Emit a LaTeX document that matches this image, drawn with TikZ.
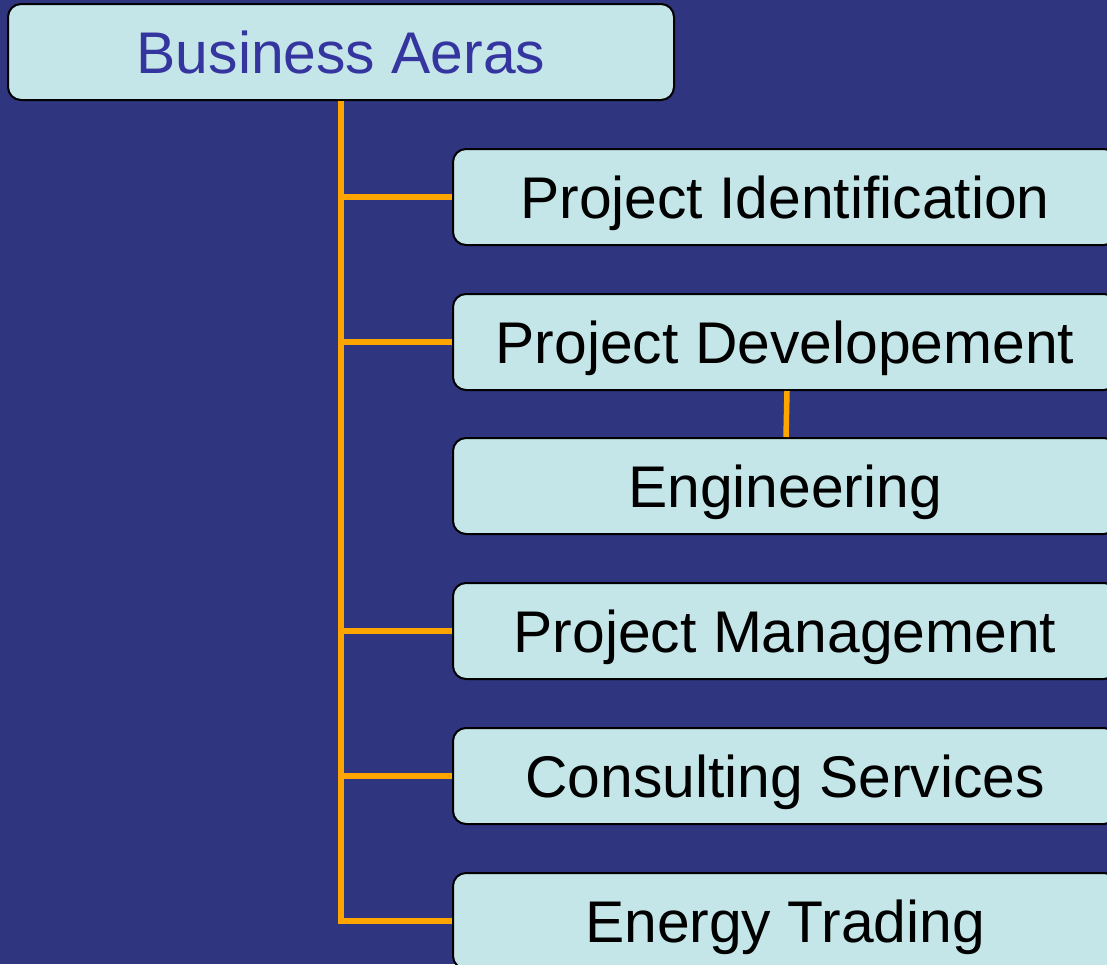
\documentclass[tikz,border=0pt]{standalone}
\usepackage{fontspec}
\setmainfont{Liberation Sans}
\definecolor{bgblue}{HTML}{303580}
\definecolor{boxfill}{HTML}{C4E6E8}
\definecolor{conncol}{HTML}{FFA500}
\definecolor{titleblue}{HTML}{3535A0}
\begin{document}
\begin{tikzpicture}[x=1pt,y=-1pt,
  box/.style={draw=black, line width=2pt, fill=boxfill, rounded corners=13pt,
    minimum height=96pt, inner sep=0pt, text height=42pt, text depth=0pt,
    font=\fontsize{58.8}{60}\selectfont},
  childbox/.style={box, minimum width=664pt, text=black},
  conn/.style={draw=conncol, line width=5.5pt}]
\useasboundingbox (0,0) rectangle (1107,964);
\clip (0,0) rectangle (1107,964);
\fill[bgblue] (0,0) rectangle (1107,964);
\node[box, minimum width=666pt, text=titleblue] (top) at (341,52) {Business Aeras};
\node[childbox] (ident) at (785,197) {Project Identification};
\node[childbox] (devel) at (785,342) {Project Developement};
\node[childbox] (eng) at (785,486) {Engineering};
\node[childbox] (mgmt) at (785,631) {Project Management};
\node[childbox] (cons) at (785,776) {Consulting Services};
\node[childbox] (trade) at (785,921) {Energy Trading};
\draw[conn] (top.south) |- (trade.west);
\draw[conn] (top.south |- ident.west) -- (ident.west);
\draw[conn] (top.south |- devel.west) -- (devel.west);
\draw[conn] (top.south |- mgmt.west) -- (mgmt.west);
\draw[conn] (top.south |- cons.west) -- (cons.west);
\draw[conn] ([xshift=2pt]devel.south) -- ([xshift=1pt]eng.north);
\end{tikzpicture}
\end{document}
